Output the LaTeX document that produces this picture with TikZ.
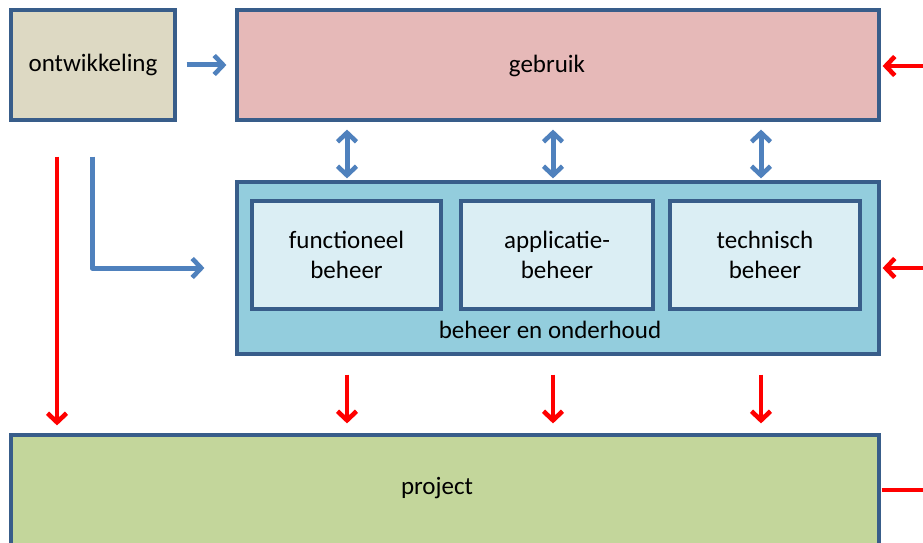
\documentclass[tikz,border=0pt]{standalone}
\usepackage{fontspec}
\setmainfont{Carlito}
\usetikzlibrary{arrows.meta,calc}

\definecolor{edge}{HTML}{385D8A}
\definecolor{devfill}{HTML}{DDD9C3}
\definecolor{usefill}{HTML}{E6B9B8}
\definecolor{mgmtfill}{HTML}{93CDDD}
\definecolor{subfill}{HTML}{DBEEF4}
\definecolor{projfill}{HTML}{C3D69B}
\definecolor{flowblue}{HTML}{4F81BD}
\definecolor{flowred}{HTML}{FF0000}

\tikzset{
  box/.style={draw=edge, line width=3.2pt, rectangle, inner sep=0pt,
    font=\fontsize{25}{30}\selectfont, align=center},
  barb/.tip={Straight Barb[length=9pt,width=19pt,line width=4.6pt]},
  bluearrow/.style={draw=flowblue, line width=5pt, -{barb}},
  bluedouble/.style={draw=flowblue, line width=5pt, {barb}-{barb}},
  redarrow/.style={draw=flowred, line width=4.6pt, -{barb}},
  redline/.style={draw=flowred, line width=4.6pt},
  txt/.style={font=\fontsize{25}{30}\selectfont, inner sep=0pt}
}

\begin{document}
\begin{tikzpicture}[x=1pt,y=-1pt]
  \clip (0,0) rectangle (923,543);
  \fill[white] (0,0) rectangle (923,543);

  % main blocks
  \node[box, fill=devfill, minimum width=164pt, minimum height=110pt] (ont) at (93,65) {ontwikkeling};
  \node[box, fill=usefill, minimum width=642pt, minimum height=110pt] (geb) at (558,65) {};
  \node[txt] (gebtxt) at (547,66) {gebruik};
  \node[box, fill=mgmtfill, minimum width=642pt, minimum height=172pt] (beh) at (558,268) {};
  \node[box, fill=projfill, minimum width=868pt, minimum height=110pt] (proj) at (445,490) {};
  \node[txt] (projtxt) at (437,488) {project};

  % sub-blocks of beheer en onderhoud
  \node[box, fill=subfill, minimum width=189pt, minimum height=108pt] (fb) at (346.5,255) {functioneel\\beheer};
  \node[box, fill=subfill, minimum width=192pt, minimum height=108pt] (ab) at (557,255) {applicatie-\\beheer};
  \node[box, fill=subfill, minimum width=190pt, minimum height=108pt] (tb) at (765,255) {technisch\\beheer};
  \node[txt] (behtxt) at (550,330) {beheer en onderhoud};

  % free ends on the right edge
  \coordinate (inGeb) at (923,66);
  \coordinate (inBeh) at (923,268);
  \coordinate (outProj) at (923,490);

  % flows from ontwikkeling
  \draw[bluearrow] ([xshift=10pt]ont.east) -- ([xshift=-9pt]geb.west);
  \draw[redarrow] ([xshift=-36pt,yshift=-35pt]ont.south) -- ([yshift=8pt]proj.north -| {$(ont.south)+(-36pt,0)$});
  \draw[bluearrow, line join=round] ([xshift=-1pt,yshift=-35pt]ont.south) |- ([xshift=-31pt]beh.west);

  % gebruik <-> beheer, beheer -> project
  \foreach \x in {347,553,761}{
    \draw[bluedouble] ([yshift=-8pt]geb.south -| \x,0) -- ([yshift=2pt]beh.north -| \x,0);
    \draw[redarrow] ([yshift=-19pt]beh.south -| \x,0) -- ([yshift=10pt]proj.north -| \x,0);
  }

  % external flows on the right
  \draw[redarrow] (inGeb) -- ([xshift=2pt]geb.east |- inGeb);
  \draw[redarrow] (inBeh) -- ([xshift=2pt]beh.east |- inBeh);
  \draw[redline] ([xshift=1pt]proj.east |- outProj) -- (outProj);
\end{tikzpicture}
\end{document}
